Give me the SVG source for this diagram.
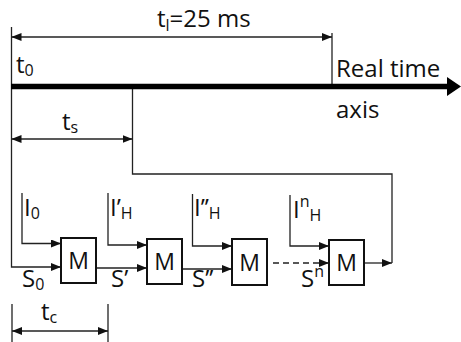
<svg xmlns="http://www.w3.org/2000/svg" width="461" height="342" viewBox="0 0 461 342">
<defs>
<style>
.ln{fill:none;stroke:#222;stroke-width:1.3}
.box{fill:#fff;stroke:#111;stroke-width:2}
.tx{font-family:"Open Sans","Noto Sans",sans-serif;font-size:24px;fill:#111}
.sub{font-size:16px}
.mid{text-anchor:middle}
.m{font-size:23px}
</style>
<marker id="ah" viewBox="0 0 10 8" refX="10" refY="4" markerWidth="10" markerHeight="8" markerUnits="userSpaceOnUse" orient="auto-start-reverse">
<path d="M0,0 L10,4 L0,8 Z" fill="#111"/>
</marker>
</defs>
<rect width="461" height="342" fill="#fff"/>
<g id="connectors">
<path class="ln" d="M11.5,27 V267 H61" marker-end="url(#ah)"/>
<path class="ln" d="M332,33 V86"/>
<path class="ln" d="M11.5,37 H332" marker-start="url(#ah)" marker-end="url(#ah)"/>
<path class="ln" d="M132.5,86 V174 H392 V263"/>
<path class="ln" d="M11.5,139 H132.5" marker-start="url(#ah)" marker-end="url(#ah)"/>
<path class="ln" d="M12,304 V342 M108,304 V342"/>
<path class="ln" d="M12,331 H108" marker-start="url(#ah)" marker-end="url(#ah)"/>
<path class="ln" d="M22,193 V243.5 H61" marker-end="url(#ah)"/>
<path class="ln" d="M96,268 H147" marker-end="url(#ah)"/>
<path class="ln" d="M108,193 V245 H147" marker-end="url(#ah)"/>
<path class="ln" d="M182,269 H232" marker-end="url(#ah)"/>
<path class="ln" d="M192.5,194 V246 H232" marker-end="url(#ah)"/>
<path class="ln" d="M273,263 H329" stroke-dasharray="6,4" stroke-width="1.6" marker-end="url(#ah)"/>
<path class="ln" d="M290,195 V246 H329" marker-end="url(#ah)"/>
<path class="ln" d="M364,263 H392" marker-end="url(#ah)"/>
<path d="M11,86.5 H449" stroke="#000" stroke-width="5.5" fill="none"/>
<path d="M447,77 L461,86.5 L447,96 Z" fill="#000"/>
</g>
<g id="labels">
<text class="tx" x="157" y="27">t<tspan class="sub" dy="4">l</tspan><tspan dy="-4">=25 ms</tspan></text>
<text class="tx" x="16" y="73">t<tspan class="sub" dy="3">0</tspan></text>
<text class="tx" x="336" y="77">Real time</text>
<text class="tx" x="336" y="118">axis</text>
<text class="tx" x="62" y="130">t<tspan class="sub" dy="3">s</tspan></text>
<text class="tx" x="41" y="320">t<tspan class="sub" dy="3">c</tspan></text>
<text class="tx" x="24" y="216">I<tspan class="sub" dy="3">0</tspan></text>
<text class="tx" x="110" y="216">I’<tspan class="sub" dy="3">H</tspan></text>
<text class="tx" x="194" y="216">I’’<tspan class="sub" dy="3">H</tspan></text>
<text class="tx" x="293" y="218">I<tspan class="sub" dy="-11">n</tspan><tspan class="sub" dy="14">H</tspan></text>
<text class="tx" x="22" y="287">S<tspan class="sub" dy="3">0</tspan></text>
<text class="tx" x="111" y="287">S’</text>
<text class="tx" x="192" y="287">S’’</text>
<text class="tx" x="301" y="287">S<tspan class="sub" dy="-10">n</tspan></text>
</g>
<g id="m1"><rect class="box" x="61" y="238" width="35" height="45"/><text class="tx m mid" x="78.5" y="269">M</text></g>
<g id="m2"><rect class="box" x="147" y="239" width="35" height="45"/><text class="tx m mid" x="164.5" y="270">M</text></g>
<g id="m3"><rect class="box" x="232" y="239" width="35" height="46"/><text class="tx m mid" x="249.5" y="270.5">M</text></g>
<g id="m4"><rect class="box" x="329" y="240" width="35" height="45"/><text class="tx m mid" x="346.5" y="271">M</text></g>
</svg>
